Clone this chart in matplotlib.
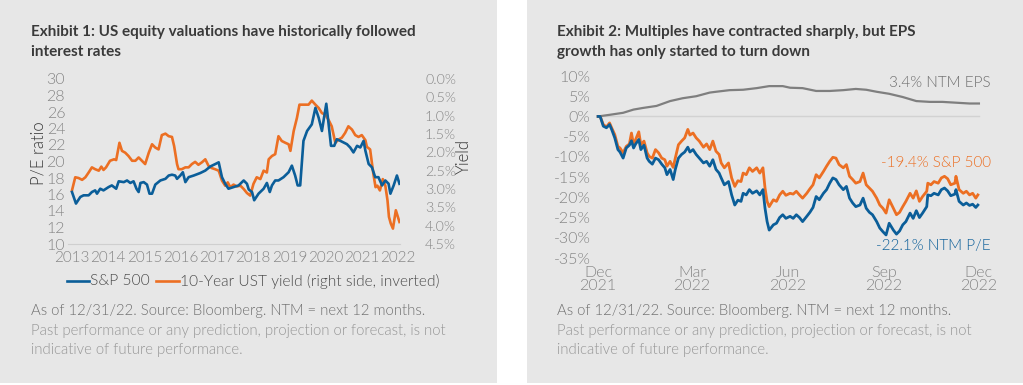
import matplotlib
matplotlib.use("Agg")
import matplotlib.pyplot as plt
from matplotlib.patches import Rectangle
from matplotlib.lines import Line2D
import numpy as np
import pandas as pd

plt.rcParams['font.family'] = ['Lato', 'DejaVu Sans']

# ---------------- Exhibit 1 data ----------------
pe_years = [2013.00, 2013.11, 2013.23, 2013.32, 2013.46, 2013.55, 2013.64, 2013.69, 2013.78, 2013.87,
            2014.01, 2014.10, 2014.22, 2014.29, 2014.43, 2014.52, 2014.61, 2014.70, 2014.78, 2014.84,
            2014.89, 2014.98, 2015.07, 2015.14, 2015.21, 2015.30, 2015.44, 2015.58, 2015.67, 2015.76,
            2015.85, 2015.90, 2015.99, 2016.06, 2016.13, 2016.22, 2016.36, 2016.54, 2016.68, 2016.82,
            2016.96, 2017.05, 2017.14, 2017.23, 2017.32, 2017.46, 2017.60, 2017.74, 2017.83, 2017.88,
            2017.97, 2018.03, 2018.15, 2018.29, 2018.38, 2018.46, 2018.52, 2018.61, 2018.70, 2018.84,
            2018.98, 2019.07, 2019.16, 2019.23, 2019.30, 2019.39, 2019.49, 2019.62, 2019.72, 2019.81,
            2019.90, 2019.95, 2020.02, 2020.08, 2020.15, 2020.24, 2020.31, 2020.41, 2020.50, 2020.59,
            2020.68, 2020.77, 2020.87, 2020.96, 2021.05, 2021.10, 2021.19, 2021.28, 2021.37, 2021.46,
            2021.56, 2021.65, 2021.74, 2021.79, 2021.88, 2021.97, 2022.04]
pe_ratio = [16.3, 14.9, 15.7, 15.9, 15.9, 16.3, 16.5, 16.1, 16.7, 16.5,
            16.9, 17.1, 16.7, 17.6, 17.5, 17.7, 17.4, 17.6, 16.7, 16.3,
            17.4, 17.5, 17.2, 16.1, 16.1, 17.2, 17.7, 17.9, 18.3, 18.4,
            18.3, 17.9, 18.3, 18.7, 17.5, 18.1, 18.3, 18.6, 18.9, 19.4,
            19.7, 19.9, 18.1, 17.3, 16.7, 16.9, 17.1, 17.7, 17.3, 16.6,
            16.3, 15.3, 16.1, 16.7, 17.4, 16.3, 17.1, 17.7, 17.7, 18.1,
            18.7, 19.5, 18.3, 17.1, 17.1, 22.5, 23.7, 24.5, 26.5, 25.3,
            23.7, 25.1, 27.0, 24.7, 21.9, 21.9, 22.7, 22.5, 22.3, 22.1,
            21.7, 21.1, 21.9, 21.7, 22.5, 21.3, 19.7, 19.3, 18.1, 18.1,
            17.1, 17.7, 17.3, 16.1, 17.1, 18.3, 17.3]

yld_years = [2013.00, 2013.09, 2013.18, 2013.28, 2013.37, 2013.46, 2013.55, 2013.64, 2013.74, 2013.81,
             2013.87, 2013.94, 2014.05, 2014.16, 2014.22, 2014.31, 2014.38, 2014.47, 2014.56, 2014.66,
             2014.75, 2014.84, 2014.93, 2015.02, 2015.12, 2015.21, 2015.30, 2015.39, 2015.48, 2015.58,
             2015.67, 2015.76, 2015.82, 2015.90, 2015.94, 2016.03, 2016.13, 2016.22, 2016.31, 2016.40,
             2016.49, 2016.59, 2016.68, 2016.77, 2016.86, 2016.95, 2017.05, 2017.14, 2017.23, 2017.30,
             2017.37, 2017.46, 2017.55, 2017.65, 2017.74, 2017.83, 2017.92, 2018.01, 2018.10, 2018.20,
             2018.29, 2018.38, 2018.43, 2018.52, 2018.61, 2018.70, 2018.79, 2018.89, 2018.98, 2019.03,
             2019.12, 2019.21, 2019.28, 2019.39, 2019.53, 2019.62, 2019.72, 2019.81, 2019.90, 2019.99,
             2020.08, 2020.17, 2020.27, 2020.36, 2020.45, 2020.54, 2020.63, 2020.73, 2020.82, 2020.91,
             2021.00, 2021.10, 2021.14, 2021.23, 2021.32, 2021.38, 2021.43, 2021.50, 2021.58, 2021.65,
             2021.71, 2021.75, 2021.80, 2021.86, 2021.94, 2022.04]
ust_yield = [3.04, 2.68, 2.70, 2.75, 2.68, 2.55, 2.41, 2.46, 2.50, 2.39,
             2.48, 2.41, 2.23, 2.19, 2.21, 1.74, 1.96, 2.01, 2.10, 2.23,
             2.23, 2.14, 2.23, 2.32, 2.01, 1.78, 1.87, 1.92, 1.53, 1.49,
             1.56, 1.58, 1.83, 2.32, 2.46, 2.46, 2.41, 2.41, 2.32, 2.26,
             2.34, 2.27, 2.19, 2.37, 2.43, 2.46, 2.50, 2.77, 2.91, 2.82,
             2.95, 2.88, 2.93, 2.91, 3.00, 3.11, 3.18, 2.86, 2.68, 2.73,
             2.50, 2.55, 2.19, 2.10, 2.05, 1.56, 1.69, 1.74, 1.78, 1.96,
             1.42, 1.06, 0.70, 0.70, 0.70, 0.59, 0.70, 0.79, 0.93, 0.97,
             1.11, 1.29, 1.74, 1.65, 1.60, 1.47, 1.29, 1.38, 1.53, 1.58,
             1.53, 1.67, 1.85, 1.92, 2.59, 2.95, 2.91, 3.04, 2.73, 2.91,
             3.31, 3.76, 3.94, 4.08, 3.58, 3.90]

ex1_years = list(range(2013, 2023))

# ---------------- Exhibit 2 data ----------------
ex2_start = "2021-12-01"
ex2_days = [0, 2, 5, 8, 11, 13, 16, 19, 21, 24, 27, 30, 32, 34, 36, 39, 41, 44, 47, 49,
            52, 55, 58, 61, 64, 66, 69, 72, 74, 77, 80, 83, 86, 88, 91, 94, 97, 101, 104, 107,
            110, 113, 116, 118, 121, 125, 128, 131, 134, 137, 139, 142, 145, 148, 152, 155, 158, 160, 162, 164,
            168, 171, 174, 177, 180, 184, 187, 190, 193, 196, 200, 203, 206, 209, 212, 216, 219, 222, 225, 228,
            231, 235, 238, 241, 244, 247, 251, 254, 257, 260, 263, 267, 270, 273, 276, 279, 283, 286, 289, 292,
            295, 299, 302, 305, 308, 311, 315, 316, 319, 322, 326, 329, 332, 335, 338, 342, 343, 346, 350, 353,
            356, 359, 362, 364]
spx_chg = [0, 0, -2.0, -2.6, -1.6, -2.8, -4.5, -7.4, -7.8, -9.0, -7.4, -6.8, -4.1, -7.0, -5.7, -3.8, -7.0, -6.1, -9.0, -9.9,
           -10.3, -8.2, -9.0, -10.3, -10.7, -12.3, -11.1, -12.6, -10.3, -7.0, -6.1, -5.3, -3.2, -4.6, -4.1, -5.3, -6.1, -7.6, -6.8, -8.2,
           -6.1, -8.6, -9.4, -11.5, -12.7, -11.5, -15.2, -17.3, -15.9, -16.1, -14.0, -14.4, -12.7, -13.6, -12.7, -14.0, -12.7, -17.7, -21.0, -22.3,
           -20.6, -21.0, -19.4, -18.5, -19.5, -19.0, -19.2, -18.5, -19.4, -20.2, -19.0, -17.9, -16.9, -14.4, -15.2, -13.6, -12.3, -11.1, -10.1, -10.3,
           -11.9, -12.7, -11.9, -14.8, -15.6, -16.5, -16.1, -14.0, -16.9, -17.7, -18.5, -20.2, -21.9, -22.7, -23.9, -20.6, -22.7, -24.3, -23.7, -22.3,
           -21.0, -19.0, -20.2, -18.4, -21.0, -19.8, -18.5, -16.5, -16.9, -16.1, -16.5, -15.2, -14.8, -15.4, -16.9, -16.5, -14.8, -18.1, -19.0, -18.5,
           -19.4, -19.0, -20.2, -19.4]
pe_chg = [0, 0, -2.4, -2.8, -2.0, -3.2, -5.3, -8.2, -8.8, -10.3, -7.8, -7.1, -6.0, -7.8, -6.8, -5.7, -8.2, -7.1, -10.3, -11.1,
          -11.8, -10.3, -10.7, -11.8, -12.7, -14.4, -13.1, -15.6, -13.1, -10.3, -9.4, -8.8, -7.6, -8.8, -8.2, -9.4, -10.3, -11.5, -11.1, -12.3,
          -10.7, -13.1, -14.0, -15.2, -16.9, -16.1, -19.4, -21.9, -20.7, -21.0, -19.0, -19.4, -18.1, -19.0, -18.4, -19.4, -18.1, -22.7, -26.0, -28.1,
          -26.8, -26.4, -25.0, -24.3, -25.2, -24.7, -25.2, -24.3, -25.0, -26.0, -24.7, -23.7, -22.5, -19.8, -20.6, -19.0, -18.1, -16.5, -15.2, -15.6,
          -16.9, -18.1, -17.3, -20.2, -21.4, -22.3, -21.9, -20.2, -22.7, -23.7, -24.3, -26.0, -27.6, -28.5, -29.3, -26.4, -28.1, -29.1, -28.3, -26.8,
          -26.0, -23.9, -25.2, -23.3, -25.0, -23.9, -22.3, -19.4, -19.6, -19.0, -19.4, -18.1, -17.7, -18.4, -19.6, -19.2, -18.1, -21.0, -21.9, -21.4,
          -22.0, -21.7, -22.5, -21.9]
eps_days = [0, 11, 24, 34, 43, 56, 69, 81, 94, 107, 113, 126, 139, 152, 164, 177, 184, 196, 209, 222,
            235, 247, 257, 267, 279, 292, 305, 318, 330, 343, 356, 365]
eps_chg = [0, 0.4, 0.9, 1.7, 2.1, 2.6, 3.8, 4.5, 5.0, 5.9, 6.1, 6.5, 6.6, 7.0, 7.5, 7.5, 7.1, 7.0, 6.3, 6.3,
           6.5, 6.8, 6.6, 6.1, 5.6, 4.8, 3.8, 3.6, 3.6, 3.4, 3.2, 3.2]
ex2_ticks = ["2021-12-01", "2022-03-01", "2022-06-01", "2022-09-01", "2022-12-01"]
ex2_ticklabels = ["Dec\n2021", "Mar\n2022", "Jun\n2022", "Sep\n2022", "Dec\n2022"]

# ---------------- styling ----------------
W, H = 1023, 385
BLUE = "#0b5e99"
ORANGE = "#ec6f23"
GREY_LINE = "#7f7f7f"
PANEL = "#e7e7e7"
TICK = "#858585"
TITLE = "#3a3a3a"
TICKSIZE = 11.5
LIGHT = 300

fig = plt.figure(figsize=(W / 100, H / 100), dpi=100)
fig.patch.set_facecolor("white")


def fx(px):
    return px / W


def fy(py):
    return 1 - py / H


def add_ax(x0, y0, x1, y1):
    return fig.add_axes([fx(x0), fy(y1), (x1 - x0) / W, (y1 - y0) / H])


def lighten(labels):
    for t in labels:
        t.set_fontweight(LIGHT)


# panels
fig.patches.append(Rectangle((0, fy(383)), fx(497), 383 / H, transform=fig.transFigure,
                             facecolor=PANEL, edgecolor="none", zorder=-10))
fig.patches.append(Rectangle((fx(527), fy(383)), fx(1023 - 527), 383 / H, transform=fig.transFigure,
                             facecolor=PANEL, edgecolor="none", zorder=-10))

# ---------- Exhibit 1 ----------
ax1 = add_ax(68, 79, 400, 244)
ax1.set_facecolor("none")
ax1.plot(pe_years, pe_ratio, color=BLUE, lw=1.9, zorder=3)
ax1.set_xlim(2012.89, 2022.055)
ax1.set_ylim(10, 30)
ax1.set_yticks(range(10, 31, 2))
ax1.set_xticks(ex1_years)
ax1.set_xticklabels([str(y) for y in ex1_years])
for s in ["top", "right", "left"]:
    ax1.spines[s].set_visible(False)
ax1.spines["bottom"].set_color("#cfcfcf")
ax1.spines["bottom"].set_linewidth(0.8)
ax1.tick_params(axis="both", length=0, labelsize=TICKSIZE, labelcolor=TICK)
ax1.tick_params(axis="y", pad=2)
ax1.tick_params(axis="x", pad=5, labelsize=11)
lighten(ax1.get_xticklabels() + ax1.get_yticklabels())

ax1b = ax1.twinx()
ax1b.plot(yld_years, ust_yield, color=ORANGE, lw=1.9, zorder=2)
ax1b.set_ylim(4.5, 0)
ax1b.set_yticks(np.arange(0, 4.51, 0.5))
ax1b.set_yticklabels([f"{v:.1f}%" for v in np.arange(0, 4.51, 0.5)])
for s in ["top", "right", "left", "bottom"]:
    ax1b.spines[s].set_visible(False)
ax1b.tick_params(axis="y", length=0, labelsize=10.3, labelcolor=TICK, pad=18)
lighten(ax1b.get_yticklabels())
ax1.set_zorder(ax1b.get_zorder() + 1)

fig.text(fx(38), fy(153), "P/E ratio", fontsize=12, color=TITLE, rotation=90,
         ha="center", va="center", fontweight=LIGHT)
fig.text(fx(464), fy(157), "Yield", fontsize=12, color=TITLE, rotation=90,
         ha="center", va="center", fontweight=LIGHT)

fig.text(fx(31), fy(32), "Exhibit 1: US equity valuations have historically followed",
         fontsize=11, fontweight="bold", color=TITLE, va="center", ha="left")
fig.text(fx(31), fy(52), "interest rates",
         fontsize=11, fontweight="bold", color=TITLE, va="center", ha="left")

# legend
fig.lines.append(Line2D([fx(67), fx(89)], [fy(281), fy(281)], transform=fig.transFigure, color=BLUE, lw=1.9))
fig.text(fx(90), fy(281), "S&P 500", fontsize=11.2, color="#4a4a4a", va="center", ha="left", fontweight=LIGHT)
fig.lines.append(Line2D([fx(156), fx(179)], [fy(281), fy(281)], transform=fig.transFigure, color=ORANGE, lw=1.9))
fig.text(fx(180), fy(281), "10-Year UST yield (right side, inverted)", fontsize=11.2, color="#4a4a4a",
         va="center", ha="left", fontweight=LIGHT)

foot1 = "As of 12/31/22. Source: Bloomberg. NTM = next 12 months."
foot2 = "Past performance or any prediction, projection or forecast, is not"
foot3 = "indicative of future performance."
for xs in (31, 557):
    fig.text(fx(xs), fy(311), foot1, fontsize=10.7, color="#707070", va="center", ha="left", fontweight=LIGHT)
    fig.text(fx(xs), fy(331), foot2, fontsize=10.7, color="#969696", va="center", ha="left", fontweight=LIGHT)
    fig.text(fx(xs), fy(350), foot3, fontsize=10.7, color="#969696", va="center", ha="left", fontweight=LIGHT)

# ---------- Exhibit 2 ----------
d0 = pd.Timestamp(ex2_start)
x_main = d0 + pd.to_timedelta(ex2_days, unit="D")
x_eps = d0 + pd.to_timedelta(eps_days, unit="D")

ax2 = add_ax(596, 76, 981, 258)
ax2.set_facecolor("none")
ax2.axhline(0, color="#d2d2d2", lw=1.0, zorder=1, xmin=0.005, xmax=0.995)
ax2.plot(x_eps, eps_chg, color=GREY_LINE, lw=1.6, zorder=2)
ax2.plot(x_main, spx_chg, color=ORANGE, lw=2.0, zorder=3)
ax2.plot(x_main, pe_chg, color=BLUE, lw=2.0, zorder=4)
ax2.set_xlim(d0 - pd.Timedelta(days=2), d0 + pd.Timedelta(days=367))
ax2.set_ylim(-35, 10)
ax2.set_yticks(range(-35, 11, 5))
ax2.set_yticklabels([f"{v}%" for v in range(-35, 11, 5)])
ax2.set_xticks(pd.to_datetime(ex2_ticks))
ax2.set_xticklabels(ex2_ticklabels, linespacing=0.92)
for s in ax2.spines.values():
    s.set_visible(False)
ax2.tick_params(axis="both", length=0, labelsize=TICKSIZE, labelcolor=TICK)
ax2.tick_params(axis="y", pad=4)
ax2.tick_params(axis="x", pad=6)
lighten(ax2.get_xticklabels() + ax2.get_yticklabels())

fig.text(fx(991), fy(83), "3.4% NTM EPS", fontsize=11, color="#6e6e6e", ha="right", va="center", fontweight=LIGHT)
fig.text(fx(991), fy(163), "-19.4% S&P 500", fontsize=11, color=ORANGE, ha="right", va="center", fontweight=LIGHT)
fig.text(fx(991), fy(246), "-22.1% NTM P/E", fontsize=11, color=BLUE, ha="right", va="center", fontweight=LIGHT)

fig.text(fx(557), fy(32), "Exhibit 2: Multiples have contracted sharply, but EPS",
         fontsize=11, fontweight="bold", color=TITLE, va="center", ha="left")
fig.text(fx(557), fy(52), "growth has only started to turn down",
         fontsize=11, fontweight="bold", color=TITLE, va="center", ha="left")

fig.savefig("out.png", dpi=100, facecolor=fig.get_facecolor())
